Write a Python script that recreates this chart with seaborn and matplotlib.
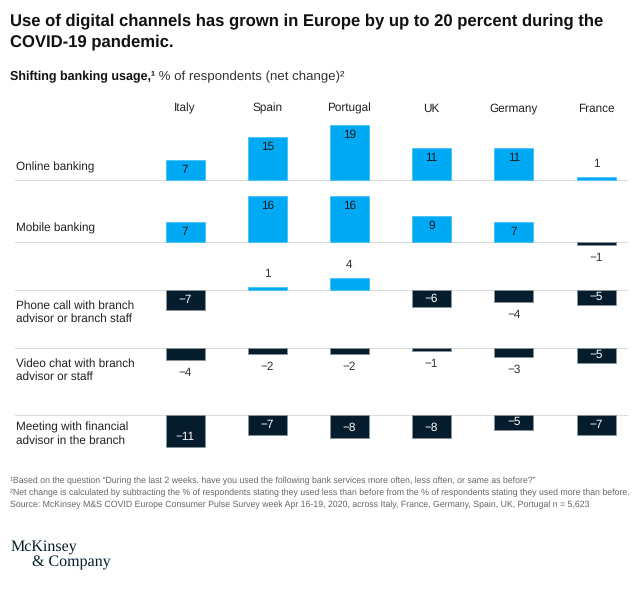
import matplotlib.pyplot as plt
import seaborn as sns
import pandas as pd

# net change in % of respondents, per channel and country
countries = ["Italy", "Spain", "Portugal", "UK", "Germany", "France"]
channels = ["Online banking",
            "Mobile banking",
            "Phone call with branch\nadvisor or branch staff",
            "Video chat with branch\nadvisor or staff",
            "Meeting with financial\nadvisor in the branch"]
online = [7, 15, 19, 11, 11, 1]
mobile = [7, 16, 16, 9, 7, -1]
phone = [-7, 1, 4, -6, -4, -5]
video = [-4, -2, -2, -1, -3, -5]
meeting = [-11, -7, -8, -8, -5, -7]
rows = [online, mobile, phone, video, meeting]

BLUE = "#00A9F4"
NAVY = "#051C2C"
W, H = 640, 590

sns.set_theme(style="white")
plt.rcParams["font.family"] = ["Liberation Sans", "DejaVu Sans"]
plt.rcParams["text.hinting"] = "no_hinting"

fig = plt.figure(figsize=(W / 100, H / 100), dpi=100)


def fx(x):
    return x / W


def fy(y):
    return 1 - y / H


# layout (pixels)
baselines = [180, 242, 290, 348, 415]
label_y = [167, 228, 312, 370, 434]
PX = 2.9            # pixels per point
x0, x1 = 15, 628
cx0, step = 185, 82.2
ymin, ymax = -12, 20

for name, vals, yb, ly in zip(channels, rows, baselines, label_y):
    top = yb - ymax * PX
    bot = yb - ymin * PX
    ax = fig.add_axes([fx(x0), fy(bot), (x1 - x0) / W, (bot - top) / H])
    df = pd.DataFrame({"country": countries, "value": vals})
    cols = [BLUE if v > 0 else NAVY for v in vals]
    edges = ["#45C3F7" if v > 0 else "#8a939a" for v in vals]
    sns.barplot(data=df, x="country", y="value", hue="country", order=countries,
                hue_order=countries, palette=cols, width=39 / step, saturation=1,
                errorbar=None, legend=False, ax=ax, zorder=2)
    for p, ec in zip(ax.patches, edges):
        p.set_edgecolor(ec)
        p.set_linewidth(0.6)
    ax.axhline(0, color="#dcdcdc", lw=0.8, zorder=1)
    ax.set_xlim(-(cx0 - x0) / step, (x1 - cx0) / step)
    ax.set_ylim(ymin, ymax)
    ax.axis("off")
    ax.patch.set_alpha(0)

    for i, v in enumerate(vals):
        txt = f"{v}" if v > 0 else f"\u2212{-v}"
        h_pt = abs(v) * PX * 0.72
        if abs(v) >= 5:
            # label inside, near the bar end
            d = min(7.4, h_pt / 2)
            off = -d if v > 0 else d
            color = "#1a1a1a" if v > 0 else "white"
        else:
            off = 9.5 if v > 0 else -9.5
            color = "#333333"
        ax.annotate(txt, xy=(i, v), xytext=(0, off), textcoords="offset points",
                    ha="center", va="center", fontsize=8.5, color=color)

    fig.text(fx(16), fy(ly), name, ha="left", va="center", fontsize=8.5,
             color="#222222", linespacing=1.2)

for i, c in enumerate(countries):
    fig.text(fx(cx0 + i * step), fy(112), c, ha="center", va="baseline",
             fontsize=8.5, color="#222222")

fig.text(fx(10), fy(13), "Use of digital channels has grown in Europe by up to 20 percent during the\nCOVID-19 pandemic.",
         ha="left", va="top", fontsize=12, weight="bold", color="#111111", linespacing=1.45)

# subtitle: bold part followed by regular part
r = fig.canvas.get_renderer()
t1 = fig.text(fx(10), fy(77), "Shifting banking usage,\u00b9", ha="left", va="center",
              fontsize=9, weight="bold", color="#111111")
bb = t1.get_window_extent(r)
fig.text(bb.x1 / W, fy(77), " % of respondents (net change)\u00b2", ha="left", va="center",
         fontsize=9.5, color="#333333")

notes = ["\u00b9Based on the question \u201cDuring the last 2 weeks, have you used the following bank services more often, less often, or same as before?\u201d",
         "\u00b2Net change is calculated by subtracting the % of respondents stating they used less than before from the % of respondents stating they used more than before.",
         "Source: McKinsey M&S COVID Europe Consumer Pulse Survey week Apr 16-19, 2020, across Italy, France, Germany, Spain, UK, Portugal n = 5,623"]
for k, n in enumerate(notes):
    fig.text(fx(10), fy(481 + k * 12), n, ha="left", va="center", fontsize=6.3, color="#666666")

fig.text(fx(11), fy(548), "McKinsey", family="Liberation Serif", fontsize=11.5,
         color=NAVY, ha="left", va="center")
fig.text(fx(32), fy(563), "& Company", family="Liberation Serif", fontsize=11.5,
         color=NAVY, ha="left", va="center")

fig.savefig("out.png", dpi=100)
